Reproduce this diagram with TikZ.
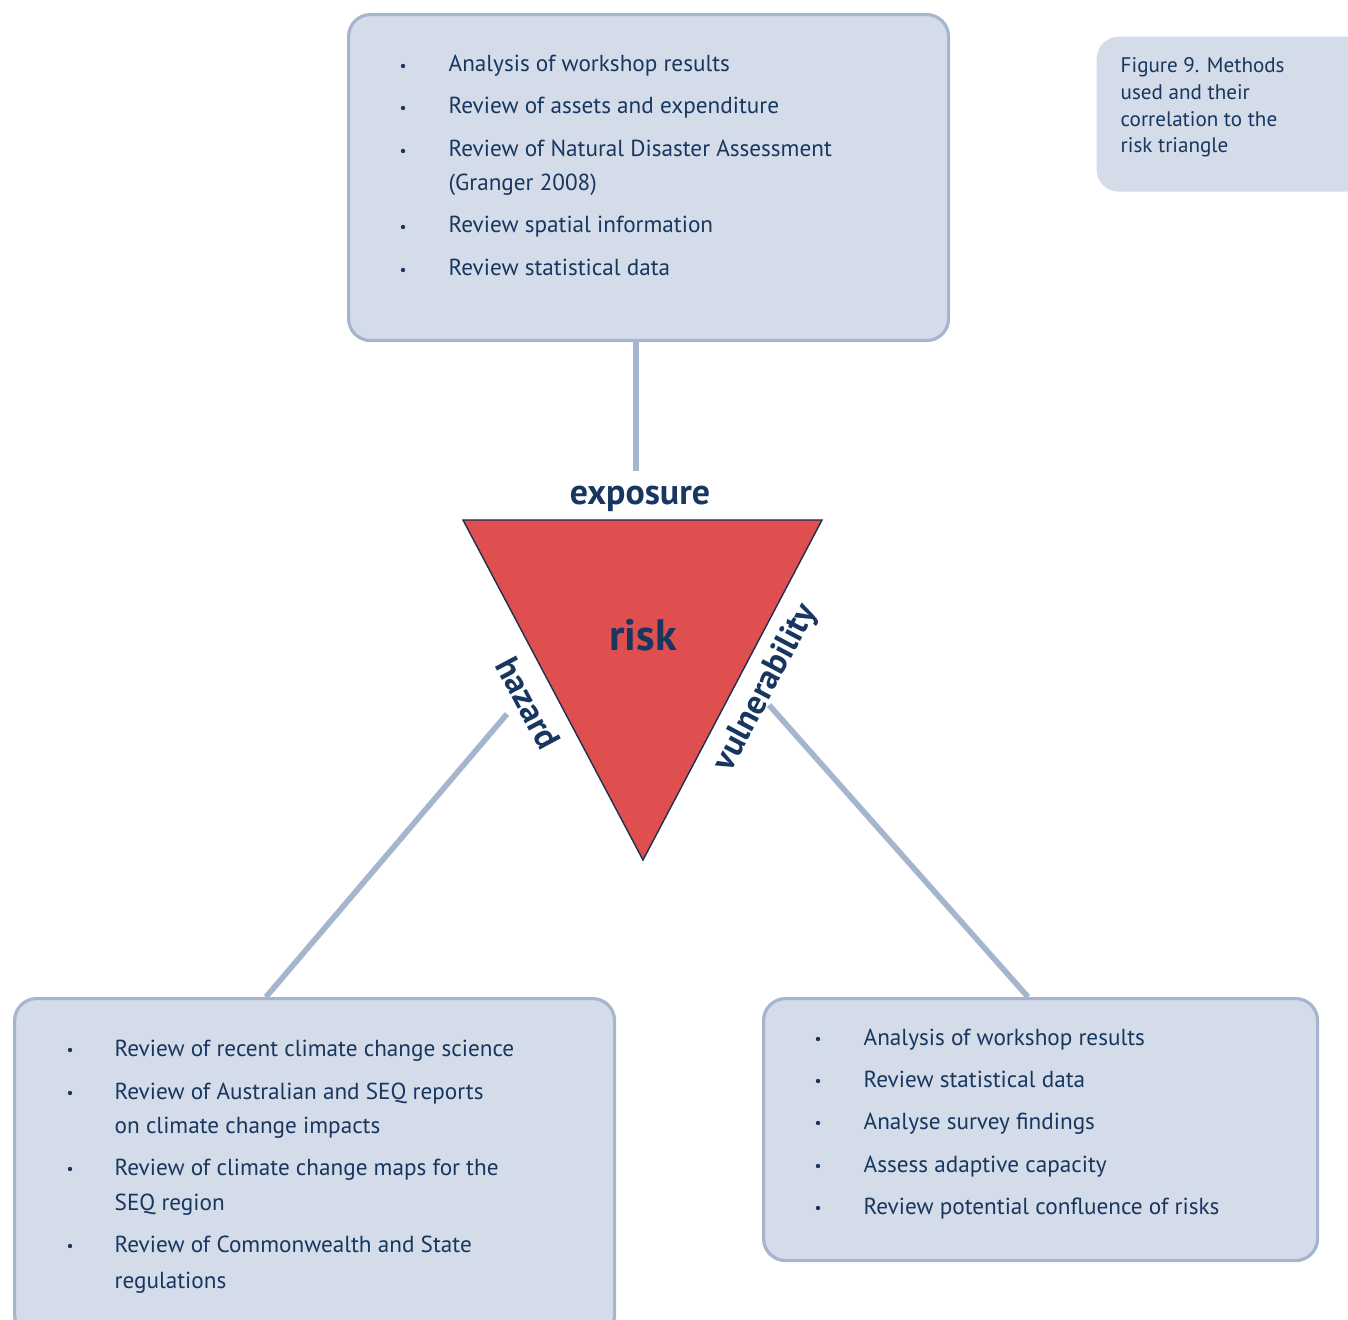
\documentclass[tikz,border=0pt]{standalone}
\usepackage{fontspec}
\setmainfont{PT Sans}
\usetikzlibrary{positioning,calc}

\definecolor{boxfill}{HTML}{D3DCE8}
\definecolor{boxline}{HTML}{A5B5CD}
\definecolor{navy}{HTML}{173660}
\definecolor{riskred}{HTML}{E04F4F}
\definecolor{edgeblue}{HTML}{1E2F4F}

\begin{document}
\begin{tikzpicture}[
  infobox/.style={draw=boxline, line width=0.9pt, fill=boxfill, rounded corners=0.22cm, anchor=north west, inner sep=0pt},
  notebox/.style={fill=boxfill, rounded corners=0.22cm, anchor=north west, inner sep=0pt},
  itemtext/.style={anchor=base west, inner sep=0pt, text=navy, font=\fontsize{6.6}{8}\selectfont},
  notetext/.style={anchor=base west, inner sep=0pt, text=navy, font=\fontsize{6}{7}\selectfont},
  bigword/.style={text=navy, font=\fontsize{9.7}{11}\selectfont\bfseries, inner sep=0pt},
  link/.style={draw=boxline, line width=1.6pt},
]
\useasboundingbox (0,0) rectangle (13.48,-13.2);

% Boxes around the triangle
\node[infobox, minimum width=6cm, minimum height=3.26cm] (exposurebox) at (3.47,-0.13) {};
\node[infobox, minimum width=6cm, minimum height=3.38cm] (hazardbox) at (0.13,-9.97) {};
\node[infobox, minimum width=5.54cm, minimum height=2.62cm] (vulnbox) at (7.62,-9.97) {};
\node[notebox, minimum width=2.84cm, minimum height=1.55cm] (notebox) at (10.96,-0.36) {};

% Figure note
\foreach \y/\t [count=\i] in {0.73/Figure 9. Methods, 1.00/used and their, 1.27/correlation to the, 1.53/risk triangle}
  \node[notetext] (note\i) at (11.20,-\y) {\t};

% Risk triangle
\coordinate (tl) at (4.63,-5.20);
\coordinate (tr) at (8.22,-5.20);
\coordinate (tb) at (6.43,-8.60);
\draw[fill=riskred, draw=edgeblue, line width=0.4pt] (tl) -- (tr) -- (tb) -- cycle;
\node[bigword, font=\fontsize{12.5}{14}\selectfont\bfseries] (risk) at (6.43,-6.35) {risk};
\node[bigword, font=\fontsize{10.2}{12}\selectfont\bfseries] (exposure) at (6.40,-4.99) {exposure};
\node[bigword, rotate=-62] (hazard) at (5.28,-7.03) {hazard};
\node[bigword, rotate=62] (vulner) at (7.66,-6.88) {vulnerability};

% Connectors
\coordinate (expend) at (6.36,-4.71);
\coordinate (hazend) at (5.07,-7.14);
\coordinate (vulnend) at (7.69,-7.05);
\draw[link] ([xshift=2.89cm]exposurebox.south west) -- (expend);
\draw[link] ([xshift=2.53cm]hazardbox.north west) -- (hazend);
\draw[link] ([xshift=2.66cm]vulnbox.north west) -- (vulnend);

% Exposure methods
\foreach \y/\b/\t [count=\i] in {0.72/1/Analysis of workshop results,
    1.14/1/Review of assets and expenditure,
    1.57/1/Review of Natural Disaster Assessment,
    1.91/0/(Granger 2008),
    2.33/1/Review spatial information,
    2.76/1/Review statistical data} {
  \node[itemtext] (exp\i) at (4.48,-\y) {\t};
  \ifnum\b=1 \fill[navy] ([shift={(-0.45,0.06)}]exp\i.base west) circle (0.022); \fi
}

% Hazard methods
\foreach \y/\b/\t [count=\i] in {10.56/1/Review of recent climate change science,
    10.99/1/Review of Australian and SEQ reports,
    11.33/0/on climate change impacts,
    11.75/1/Review of climate change maps for the,
    12.10/0/SEQ region,
    12.52/1/Review of Commonwealth and State,
    12.88/0/regulations} {
  \node[itemtext] (haz\i) at (1.14,-\y) {\t};
  \ifnum\b=1 \fill[navy] ([shift={(-0.44,0.06)}]haz\i.base west) circle (0.022); \fi
}

% Vulnerability methods
\foreach \y/\t [count=\i] in {10.45/Analysis of workshop results,
    10.87/Review statistical data,
    11.29/Analyse survey findings,
    11.72/Assess adaptive capacity,
    12.14/Review potential confluence of risks} {
  \node[itemtext] (vul\i) at (8.63,-\y) {\t};
  \fill[navy] ([shift={(-0.45,0.06)}]vul\i.base west) circle (0.022);
}
\end{tikzpicture}
\end{document}
